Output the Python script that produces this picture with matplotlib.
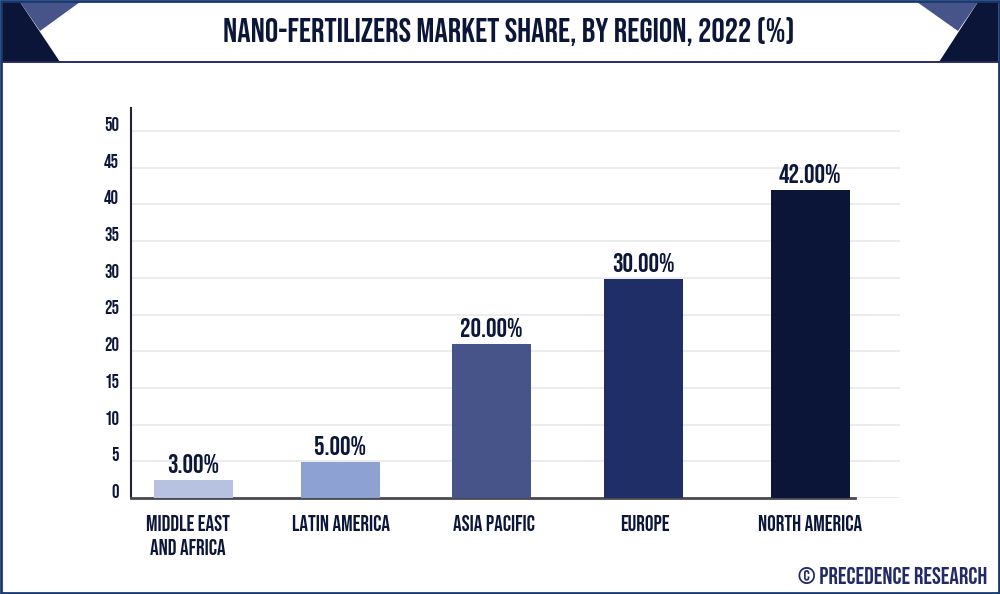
import matplotlib
matplotlib.use('Agg')
import matplotlib.pyplot as plt
from matplotlib.patches import Polygon, Rectangle

plt.rcParams['font.family'] = ['Bebas Neue', 'Liberation Sans', 'DejaVu Sans']

categories = ['MIDDLE EAST\nAND AFRICA', 'LATIN AMERICA', 'ASIA PACIFIC', 'EUROPE', 'NORTH AMERICA']
bar_values = [2.4, 4.9, 21.0, 29.8, 42.0]
bar_labels = ['3.00%', '5.00%', '20.00%', '30.00%', '42.00%']
y_ticks = [0, 5, 10, 15, 20, 25, 30, 35, 40, 45, 50]
title = 'NANO-FERTILIZERS MARKET SHARE, BY REGION, 2022 (%)'
credit = '© PRECEDENCE RESEARCH'

bar_colors = ['#b7c2e0', '#8da2d2', '#475489', '#202e68', '#0a1537']
bar_centers = [193, 340, 491, 643, 810]
label_centers = [188, 341, 494, 645, 810]
navy = '#0b1638'

fig = plt.figure(figsize=(10, 5.94), dpi=100)

# chart area, x runs in figure pixels because the bars are not evenly spaced
ax = fig.add_axes([0.131, (594 - 498) / 594, 0.769, 390 / 594])
ax.set_xlim(131, 900)
ax.set_ylim(0, 390 / 7.34)
ax.bar(bar_centers, bar_values, width=79, color=bar_colors, zorder=3)
for x, v, lab in zip(bar_centers, bar_values, bar_labels):
    ax.annotate(lab, (x, v), xytext=(0, 5), textcoords='offset points', ha='center', va='bottom',
                fontsize=19, color=navy, zorder=4)

ax.set_yticks(y_ticks)
ax.set_xticks(label_centers)
ax.set_xticklabels(categories, fontsize=15.5, color=navy, linespacing=1.45)
ax.tick_params(axis='x', length=0, pad=12.5)
ax.tick_params(axis='y', length=0, pad=8.6, labelsize=13.5, labelcolor=navy)
# the y labels sit a little above their gridlines
for t in ax.get_yticklabels():
    t.set_verticalalignment('bottom')
ax.grid(axis='y', color='#e9e9ec', linewidth=1.2, zorder=0)
ax.set_axisbelow(True)
for s in ['top', 'right']:
    ax.spines[s].set_visible(False)
ax.spines['left'].set_color('#222433')
ax.spines['left'].set_linewidth(1.5)
ax.spines['bottom'].set_color('#4a4a50')
ax.spines['bottom'].set_linewidth(2)
ax.spines['bottom'].set_bounds(131, 855)

# header and frame, drawn on an overlay in pixel coordinates
deco = fig.add_axes([0, 0, 1, 1], zorder=5)
deco.set_xlim(0, 1000)
deco.set_ylim(594, 0)
deco.axis('off')
deco.add_patch(Polygon([(2, 2), (20, 2), (60, 62), (2, 62)], color='#0a1537', lw=0))
deco.add_patch(Polygon([(20, 2), (80, 2), (40, 31)], color='#475489', lw=0))
deco.add_patch(Polygon([(978, 2), (998, 2), (998, 62), (939, 62)], color='#0a1537', lw=0))
deco.add_patch(Polygon([(917, 2), (978, 2), (958, 31)], color='#475489', lw=0))
deco.plot([2, 998], [62, 62], color='#2a2c68', lw=1.4)
deco.add_patch(Rectangle((1, 1), 998, 592, fill=False, edgecolor='#17396f', lw=2))
deco.text(509, 32, title, ha='center', va='center', fontsize=24, color=navy)
deco.text(987, 576, credit, ha='right', va='center', fontsize=17, color='#232a68')

fig.savefig('out.png', dpi=100)
plt.close()
